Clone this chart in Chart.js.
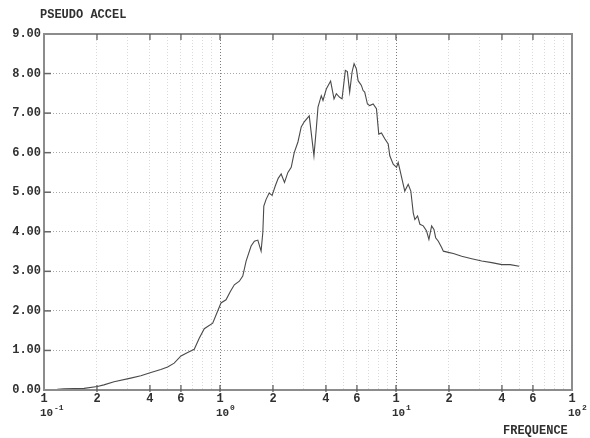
<!DOCTYPE html>
<html>
<head>
<meta charset="utf-8">
<script src="https://cdn.jsdelivr.net/npm/chart.js@4"></script>
<style>
  html, body { margin: 0; padding: 0; background: #fff; }
  canvas { display: block; }
</style>
</head>
<body>
<canvas id="chart" width="590" height="438"></canvas>
<script>
// frequency (Hz) and pseudo acceleration
const freq = [0.1, 0.102, 0.119, 0.130, 0.169, 0.201, 0.219, 0.250, 0.311, 0.355,
  0.405, 0.461, 0.504, 0.549, 0.600, 0.655, 0.714, 0.762, 0.814, 0.909,
  1.013, 1.082, 1.145, 1.206, 1.288, 1.347, 1.407, 1.502, 1.568, 1.640,
  1.712, 1.751, 1.774, 1.828, 1.902, 1.978, 2.058, 2.141, 2.226, 2.325,
  2.431, 2.539, 2.641, 2.772, 2.894, 3.010, 3.214, 3.418, 3.524, 3.604,
  3.763, 3.848, 4.018, 4.251, 4.445, 4.581, 4.784, 4.936, 5.155, 5.292,
  5.455, 5.629, 5.779, 5.956, 6.090, 6.359, 6.503, 6.641, 6.880, 7.091,
  7.415, 7.743, 7.980, 8.269, 8.635, 9.030, 9.221, 9.640, 10.07, 10.29,
  10.51, 10.99, 11.22, 11.73, 12.14, 12.53, 12.80, 13.26, 13.67, 14.29,
  14.92, 15.38, 15.94, 16.43, 16.80, 17.40, 18.17, 18.58, 19.84, 21.18,
  23.62, 26.93, 30.70, 35.01, 39.91, 44.50, 50.10];
const accel = [0.00, 0.01, 0.02, 0.03, 0.04, 0.09, 0.13, 0.21, 0.30, 0.36,
  0.44, 0.52, 0.58, 0.68, 0.86, 0.95, 1.03, 1.31, 1.55, 1.69,
  2.20, 2.28, 2.49, 2.66, 2.75, 2.88, 3.26, 3.64, 3.76, 3.79,
  3.51, 3.98, 4.65, 4.82, 4.98, 4.92, 5.15, 5.35, 5.46, 5.25,
  5.50, 5.63, 6.00, 6.27, 6.65, 6.78, 6.93, 5.92, 6.60, 7.15,
  7.44, 7.32, 7.61, 7.81, 7.36, 7.49, 7.40, 7.36, 8.08, 8.05,
  7.53, 8.04, 8.25, 8.12, 7.82, 7.70, 7.57, 7.53, 7.23, 7.19,
  7.23, 7.11, 6.47, 6.50, 6.35, 6.22, 5.92, 5.71, 5.63, 5.75,
  5.58, 5.20, 5.03, 5.20, 5.03, 4.48, 4.31, 4.40, 4.19, 4.15,
  4.02, 3.81, 4.15, 4.06, 3.85, 3.76, 3.60, 3.51, 3.48, 3.45,
  3.38, 3.32, 3.26, 3.22, 3.17, 3.17, 3.13];

const yTicks = [0, 1, 2, 3, 4, 5, 6, 7, 8, 9];
const decades = [0.1, 1, 10, 100];
const decadeExp = ['-1', '0', '1', '2'];
const xLabelDigits = [1, 2, 4, 6];
const minorDigits = [1, 2, 3, 4, 5, 6, 7, 8, 9];

const FONT = "'Liberation Mono', 'Courier New', monospace";
const TEXT = '#303030';

const gridValues = [];
decades.slice(0, 3).forEach(d => minorDigits.forEach(m => gridValues.push(+(d * m).toPrecision(3))));
gridValues.push(100);

const decorPlugin = {
  id: 'decor',
  afterDraw(chart) {
    const ctx = chart.ctx;
    const a = chart.chartArea;
    const xs = chart.scales.x, ys = chart.scales.y;
    ctx.save();

    // frame
    ctx.strokeStyle = '#8c8c8c';
    ctx.lineWidth = 2;
    ctx.strokeRect(a.left, a.top, a.right - a.left, a.bottom - a.top);

    // y ticks + labels
    ctx.font = 'bold 12px ' + FONT;
    ctx.fillStyle = TEXT;
    ctx.textAlign = 'right';
    ctx.textBaseline = 'alphabetic';
    yTicks.forEach(v => {
      const y = ys.getPixelForValue(v);
      if (v > 0 && v < 9) {
        ctx.strokeStyle = '#666';
        ctx.lineWidth = 1.5;
        ctx.beginPath();
        ctx.moveTo(a.left, y);
        ctx.lineTo(a.left + 7, y);
        ctx.stroke();
      }
      ctx.fillText(v.toFixed(2), a.left - 3, y + 3);
    });

    // x ticks + labels
    ctx.textAlign = 'center';
    ctx.textBaseline = 'middle';
    decades.forEach((d, i) => {
      const digits = i < 3 ? xLabelDigits : [1];
      digits.forEach(m => {
        const v = d * m;
        const x = xs.getPixelForValue(v);
        if (v > 0.1 && v < 100) {
          ctx.strokeStyle = '#555';
          ctx.lineWidth = 1.2;
          ctx.beginPath();
          ctx.moveTo(x, a.top);
          ctx.lineTo(x, a.top + 6);
          ctx.moveTo(x, a.bottom - 5);
          ctx.lineTo(x, a.bottom + 2);
          ctx.stroke();
        }
        ctx.font = 'bold 12px ' + FONT;
        ctx.fillText(String(m), x, 399);
      });
      const x0 = xs.getPixelForValue(d);
      ctx.textAlign = 'left';
      ctx.font = 'bold 11px ' + FONT;
      ctx.fillText('10', x0 - 4, 413);
      ctx.font = 'bold 8px ' + FONT;
      ctx.fillText(decadeExp[i], x0 + 10, 408);
      ctx.textAlign = 'center';
    });

    // titles
    ctx.font = 'bold 12px ' + FONT;
    ctx.textAlign = 'left';
    ctx.fillText('PSEUDO ACCEL', 40, 15);
    ctx.fillText('FREQUENCE', 503, 431);
    ctx.restore();
  }
};

new Chart(document.getElementById('chart'), {
  type: 'line',
  data: {
    datasets: [{
      data: freq.map((f, i) => ({ x: f, y: accel[i] })),
      borderColor: '#4a4a4a',
      borderWidth: 1.1,
      pointRadius: 0,
      tension: 0,
      fill: false
    }]
  },
  plugins: [decorPlugin],
  options: {
    responsive: false,
    animation: false,
    devicePixelRatio: 1,
    layout: { padding: { left: 44, right: 18, top: 34, bottom: 48 } },
    plugins: { legend: { display: false }, tooltip: { enabled: false } },
    scales: {
      x: {
        type: 'logarithmic',
        min: 0.1,
        max: 100,
        afterBuildTicks: axis => { axis.ticks = gridValues.map(v => ({ value: v })); },
        ticks: { display: false },
        grid: {
          drawTicks: false,
          color: c => (decades.includes(c.tick && c.tick.value) ? '#7a7a7a' : '#dadada'),
          lineWidth: 1
        },
        border: { display: false, dash: [1, 2] }
      },
      y: {
        min: 0,
        max: 9,
        ticks: { display: false, stepSize: 1 },
        grid: { drawTicks: false, color: '#a8a8a8', lineWidth: 1 },
        border: { display: false, dash: [1, 2] }
      }
    }
  }
});
</script>
</body>
</html>
